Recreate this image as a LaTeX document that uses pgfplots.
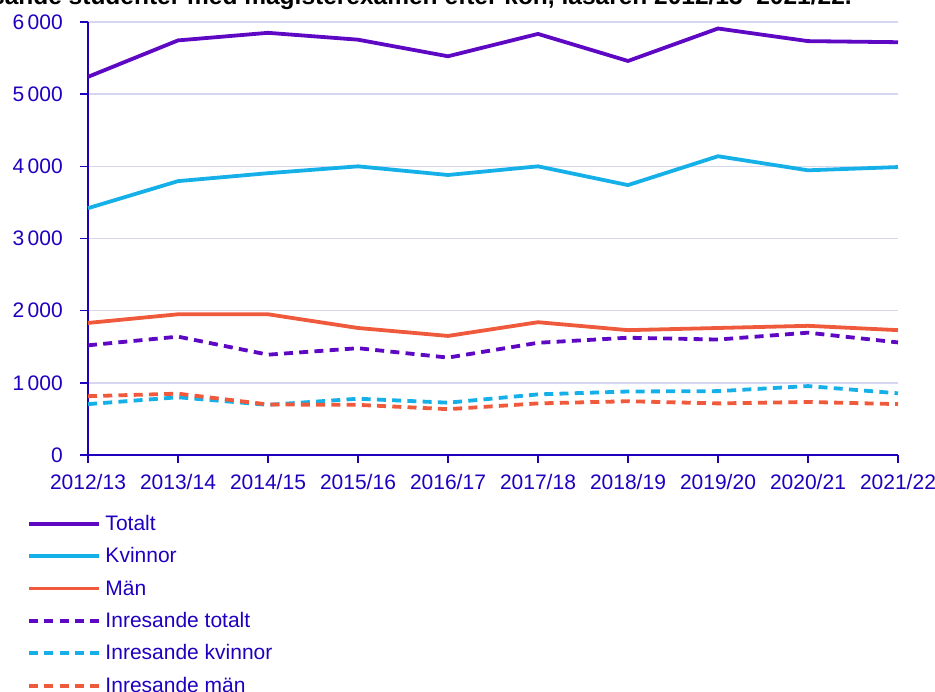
\documentclass[border=0pt]{standalone}
\usepackage{fontspec}
\setmainfont{Liberation Sans}
\usepackage{pgfplots}
\usepackage{pgfplotstable}
\pgfplotsset{compat=1.18}
\definecolor{txt}{RGB}{30,0,190}
\definecolor{ctot}{RGB}{94,8,196}
\definecolor{ckv}{RGB}{22,176,232}
\definecolor{cman}{RGB}{240,90,60}
\definecolor{gridc}{RGB}{214,214,240}
\pgfplotstableread{
x tot kv man itot ikv iman
0 5240 3420 1830 1520 705 815
1 5745 3795 1950 1640 800 850
2 5850 3905 1950 1390 695 700
3 5755 4000 1760 1480 780 695
4 5525 3880 1650 1350 725 635
5 5835 4000 1840 1555 840 715
6 5460 3740 1730 1625 880 745
7 5910 4140 1760 1600 885 715
8 5735 3945 1790 1695 955 735
9 5720 3990 1730 1560 855 705
}\data
\begin{document}
\begin{tikzpicture}
\begin{axis}[
  at={(0,0)}, anchor=south west,
  scale only axis, width=810bp, height=433bp,
  xmin=0, xmax=9, ymin=0, ymax=6000,
  clip=false,
  axis lines=left,
  axis line style={-, draw=txt, line width=1.8bp},
  xtick={0,...,9},
  xticklabels={2012/13,2013/14,2014/15,2015/16,2016/17,2017/18,2018/19,2019/20,2020/21,2021/22},
  ytick={0,1000,2000,3000,4000,5000,6000},
  yticklabels={0,1\,000,2\,000,3\,000,4\,000,5\,000,6\,000},
  tick style={draw=txt, line width=1.6bp},
  tick align=outside, major tick length=8bp,
  ymajorgrids,
  grid style={draw=gridc, line width=1.6bp},
  ticklabel style={font=\fontsize{21bp}{25bp}\selectfont, text=txt, inner sep=0pt},
  yticklabel style={anchor=east, xshift=-17bp},
  xticklabel style={anchor=north, yshift=-11bp},
  legend style={at={(axis description cs:0,0)}, anchor=north west,
    xshift=-61bp, yshift=-60bp, draw=none, fill=none, inner sep=0pt,
    font=\fontsize{21bp}{25bp}\selectfont, text=txt,
    nodes={inner sep=0pt, text height=15bp, text depth=2bp},
    row sep=15.4bp, column sep=4.5bp},
  legend cell align=left,
  legend image code/.code={\draw[line width=3.8bp, #1] (0bp,0bp) -- (70bp,0bp);},
  every axis plot/.append style={line width=3.8bp, line join=round},
  dashed line/.style={line cap=butt, dash pattern=on 9bp off 6.25bp},
]
\addplot[ctot] table[x=x,y=tot] {\data};
\addlegendentry{Totalt}
\addplot[ckv] table[x=x,y=kv] {\data};
\addlegendentry{Kvinnor}
\addplot[cman] table[x=x,y=man] {\data};
\addlegendentry{Män}
\addplot[ctot, dashed line] table[x=x,y=itot] {\data};
\addlegendentry{Inresande totalt}
\addplot[ckv, dashed line] table[x=x,y=ikv] {\data};
\addlegendentry{Inresande kvinnor}
\addplot[cman, dashed line] table[x=x,y=iman] {\data};
\addlegendentry{Inresande män}
\end{axis}
\node[anchor=base east, font=\bfseries\fontsize{24.5bp}{29bp}\selectfont, text=black, inner sep=0pt]
  at (764bp,450bp) {Inresande studenter med magisterexamen efter kön, läsåren 2012/13–2021/22.};
\pgfresetboundingbox
\useasboundingbox (-88bp,-237bp) rectangle (847bp,455bp);
\end{tikzpicture}
\end{document}
